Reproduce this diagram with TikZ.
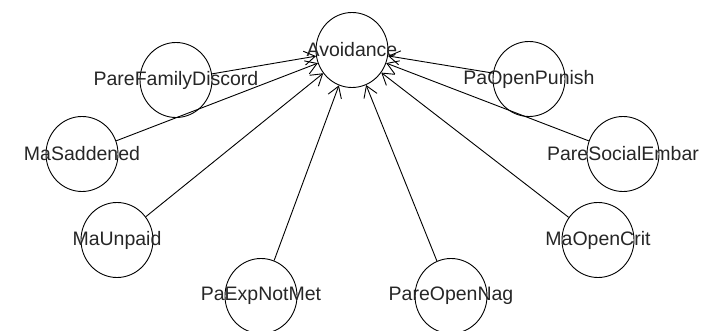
\documentclass[tikz,border=0pt]{standalone}
\usepackage{fontspec}
\setmainfont{Liberation Sans}
\usetikzlibrary{shapes.geometric,arrows.meta}
\begin{document}
\begin{tikzpicture}[x=1pt,y=-1pt,
  vtx/.style={ellipse,draw,line width=0.9pt,minimum width=72pt,minimum height=75pt,inner sep=0pt},
  lbl/.style={font=\fontsize{19.5}{20}\selectfont,inner sep=0pt,text=black!85},
  edge/.style={line width=0.9pt,-{Straight Barb[length=11pt,width=14pt,line width=0.9pt]}}]
\useasboundingbox (0,0) rectangle (718,331);
\node[vtx,label={[lbl]center:Avoidance}] (av) at (352,50) {};
\node[vtx,label={[lbl]center:PareFamilyDiscord}] (pfd) at (176,80) {};
\node[vtx,label={[lbl]center:MaSaddened}] (mas) at (82,154) {};
\node[vtx,label={[lbl]center:MaUnpaid}] (mau) at (117,240) {};
\node[vtx,label={[lbl]center:PaExpNotMet}] (pen) at (261,296) {};
\node[vtx,label={[lbl]center:PareOpenNag}] (pon) at (451,296) {};
\node[vtx,label={[lbl]center:MaOpenCrit}] (moc) at (598,240) {};
\node[vtx,label={[lbl]center:PareSocialEmbar}] (pse) at (623,154) {};
\node[vtx,label={[lbl]center:PaOpenPunish}] (pop) at (529,79) {};
\foreach \n in {pfd,mas,mau,pen,pon,moc,pse,pop}
  \draw[edge] (\n) -- (av);
\end{tikzpicture}
\end{document}
